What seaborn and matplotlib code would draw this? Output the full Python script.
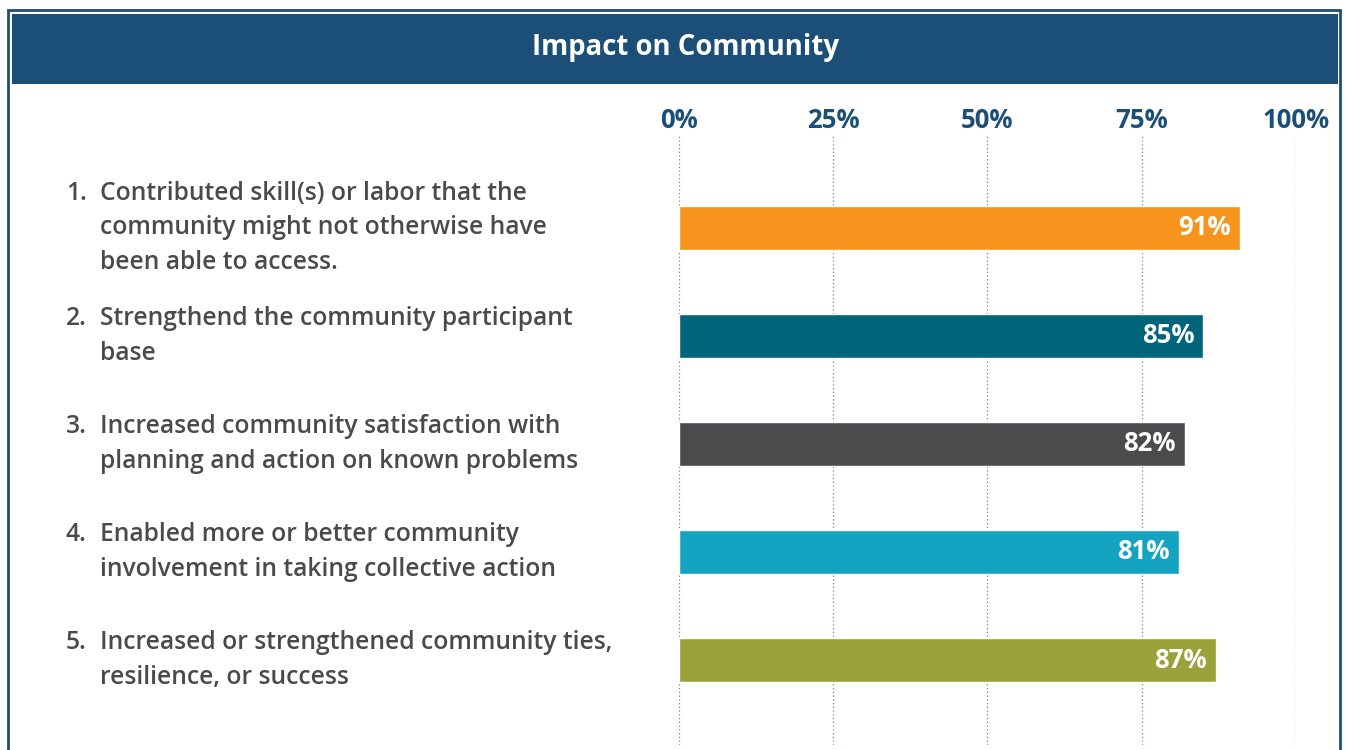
import matplotlib
matplotlib.use("Agg")
import matplotlib.pyplot as plt
import matplotlib.transforms as mtransforms
from matplotlib.patches import Rectangle
import pandas as pd
import seaborn as sns

# chart data
categories = ["1", "2", "3", "4", "5"]
item_text = [
    "Contributed skill(s) or labor that the\ncommunity might not otherwise have\nbeen able to access.",
    "Strengthend the community participant\nbase",
    "Increased community satisfaction with\nplanning and action on known problems",
    "Enabled more or better community\ninvolvement in taking collective action",
    "Increased or strengthened community ties,\nresilience, or success",
]
values = [91, 85, 82, 81, 87]
bar_colors = ["#F7941D", "#00657A", "#4B4B4D", "#14A4C2", "#9BA23A"]
x_ticks = [0, 25, 50, 75, 100]
x_tick_labels = ["0%", "25%", "50%", "75%", "100%"]
title = "Impact on Community"

navy = "#1B4F78"
text_gray = "#4A4A4A"

sns.set_style("white")
plt.rcParams["font.family"] = ["Open Sans", "DejaVu Sans"]

df = pd.DataFrame({"item": categories, "value": values})

fig = plt.figure(figsize=(13.46, 7.5), dpi=100)
W, H = 1346, 750

# outer frame and title bar
fig.patches.append(Rectangle((8 / W, -0.05), 1332 / W, 1.05 - 10 / H,
                             transform=fig.transFigure, fill=False,
                             edgecolor=navy, linewidth=2))
fig.patches.append(Rectangle((12 / W, 1 - 84 / H), 1326 / W, 70 / H,
                             transform=fig.transFigure, facecolor=navy,
                             edgecolor="none"))
fig.text(686 / W, 1 - 48 / H, title, color="white", fontsize=19.8,
         fontweight="bold", ha="center", va="center")

ax = fig.add_axes([679 / W, 1 - 745 / H, 617 / W, 610 / H])
sns.barplot(data=df, y="item", x="value", hue="item", palette=bar_colors,
            orient="h", width=0.4, legend=False, saturation=1, ax=ax)

ax.set_xlim(0, 100)
ax.set_ylim(4.787, -0.861)
ax.set_xticks(x_ticks)
ax.set_xticklabels(x_tick_labels)
ax.xaxis.tick_top()
ax.tick_params(axis="x", length=0, pad=1, labelsize=18.5, labelcolor=navy)
for lab in ax.get_xticklabels():
    lab.set_fontweight("bold")
ax.set_yticks([])
ax.set_xlabel("")
ax.set_ylabel("")
for s in ax.spines.values():
    s.set_visible(False)
ax.grid(False)
for t in x_ticks:
    ax.axvline(t, color="#5E86B0", linestyle=(0, (1, 2)), linewidth=0.9, zorder=0)

# value labels inside bars
for i, v in enumerate(values):
    ax.text(v - 1.5, i, f"{v}%", color="white", fontsize=18.5, fontweight="bold",
            ha="right", va="center")

# numbered item labels on the left, number aligned with the first line
trans = mtransforms.blended_transform_factory(fig.transFigure, ax.transData)
for i, (num, txt) in enumerate(zip(categories, item_text)):
    nlines = txt.count("\n") + 1
    fig.text(66 / W, i, f"{num}." + "\n" * (nlines - 1) + ("" if nlines == 1 else " "),
             transform=trans, color=text_gray, fontsize=17.7,
             fontweight="semibold", ha="left", va="center", linespacing=1.48)
    fig.text(100 / W, i, txt, transform=trans, color=text_gray, fontsize=17.7,
             fontweight="semibold", ha="left", va="center", linespacing=1.48)

fig.savefig("out.png", dpi=100)
